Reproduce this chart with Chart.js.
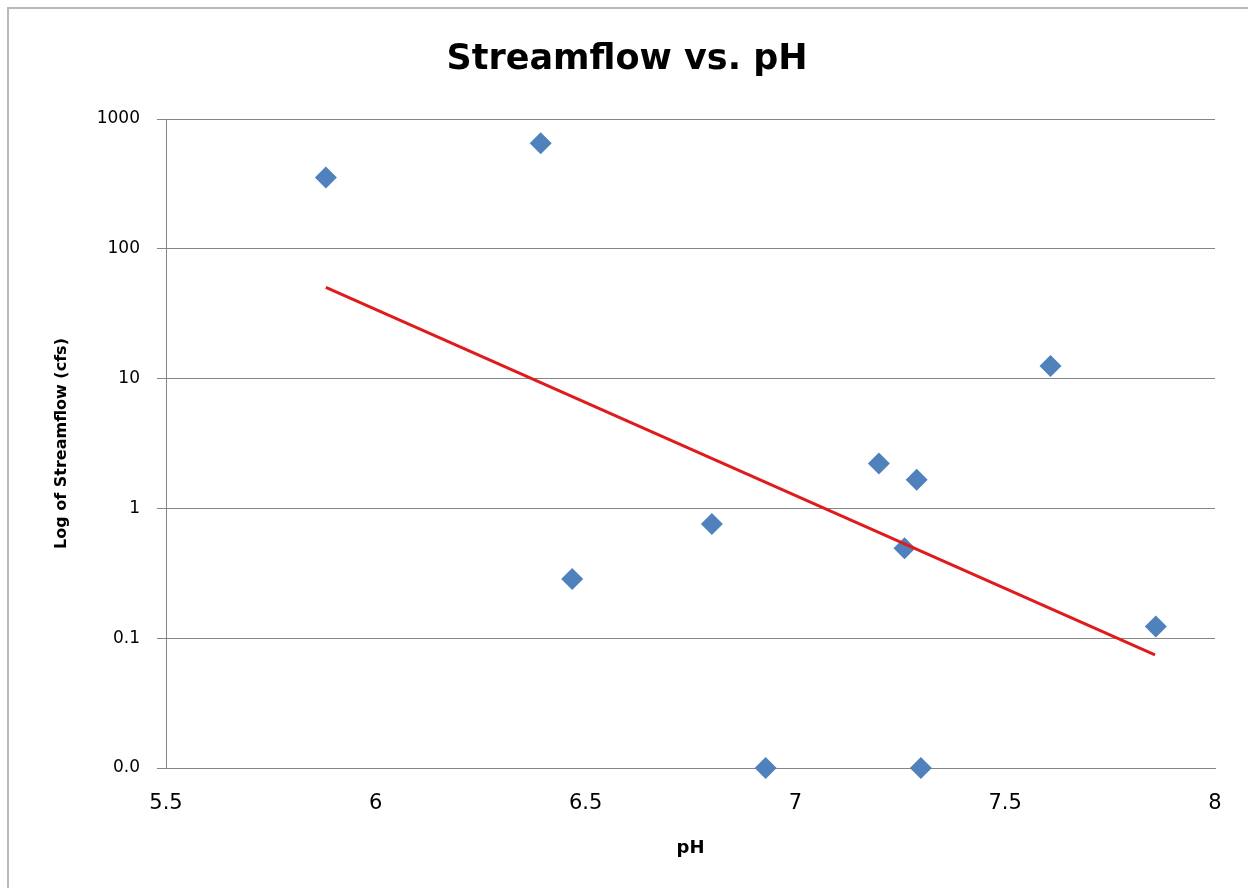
<!DOCTYPE html>
<html>
<head>
<meta charset="utf-8">
<script src="https://cdn.jsdelivr.net/npm/chart.js@4/dist/chart.umd.min.js"></script>
<style>
  html, body { margin: 0; padding: 0; background: #ffffff; }
  #wrap { position: relative; width: 1248px; height: 888px; }
</style>
</head>
<body>
<div id="wrap"><canvas id="c" width="1248" height="888"></canvas></div>
<script>
// ---- data ----
const phValues   = [5.881, 6.393, 6.468, 6.801, 6.929, 7.199, 7.260, 7.289, 7.299, 7.608, 7.859];
const flowValues = [355, 650, 0.286, 0.758, 0.01, 2.22, 0.493, 1.66, 0.01, 12.5, 0.123];
const trendX = [5.881, 7.857];
const trendY = [50.5, 0.0743];
const xTickValues = [5.5, 6, 6.5, 7, 7.5, 8];
const xTickLabels = ["5.5", "6", "6.5", "7", "7.5", "8"];
const yTickValues = [0.01, 0.1, 1, 10, 100, 1000];
const yTickLabels = ["0.0", "0.1", "1", "10", "100", "1000"];
const chartTitle = "Streamflow vs. pH";
const xTitle = "pH";
const yTitle = "Log of Streamflow (cfs)";

const points = phValues.map((x, i) => ({ x: x, y: flowValues[i] }));
const trend = trendX.map((x, i) => ({ x: x, y: trendY[i] }));

const frame = {
  id: 'frame',
  beforeDraw(chart) {
    const ctx = chart.ctx;
    ctx.save();
    ctx.fillStyle = '#ffffff';
    ctx.fillRect(0, 0, chart.width, chart.height);
    ctx.strokeStyle = '#b8b8b8';
    ctx.lineWidth = 2;
    ctx.beginPath();
    ctx.moveTo(8, 900);
    ctx.lineTo(8, 8);
    ctx.lineTo(1260, 8);
    ctx.stroke();
    ctx.restore();
  }
};

new Chart(document.getElementById('c'), {
  type: 'scatter',
  data: {
    datasets: [
      {
        type: 'line',
        data: trend,
        borderColor: '#e01b1b',
        borderWidth: 3,
        pointRadius: 0,
        fill: false,
        order: 0
      },
      {
        data: points,
        pointStyle: 'rectRot',
        pointRadius: 11,
        pointHoverRadius: 11,
        backgroundColor: '#4f81bd',
        borderColor: '#4f81bd',
        borderWidth: 0,
        clip: false,
        order: 1
      }
    ]
  },
  options: {
    responsive: false,
    animation: false,
    devicePixelRatio: 1,
    layout: { padding: { left: 39, right: 33, top: 0, bottom: 0 } },
    plugins: {
      legend: { display: false },
      tooltip: { enabled: false },
      title: {
        display: true,
        text: chartTitle,
        color: '#000000',
        font: { family: 'DejaVu Sans', weight: 'bold', size: 35 },
        padding: { top: 39, bottom: 38 }
      }
    },
    scales: {
      x: {
        type: 'linear',
        min: 5.5,
        max: 8,
        afterBuildTicks(scale) {
          scale.ticks = xTickValues.map(v => ({ value: v }));
        },
        ticks: {
          color: '#000000',
          font: { family: 'DejaVu Sans', size: 21 },
          padding: 3,
          maxRotation: 0,
          autoSkip: false,
          callback(value) {
            const i = xTickValues.indexOf(value);
            return i >= 0 ? xTickLabels[i] : '';
          }
        },
        grid: { display: true, drawOnChartArea: false, drawTicks: true, tickLength: 20, tickColor: 'rgba(0,0,0,0)', color: '#868686' },
        border: { display: true, color: '#868686', width: 1 },
        title: {
          display: true,
          text: xTitle,
          color: '#000000',
          font: { family: 'DejaVu Sans', weight: 'bold', size: 18 },
          padding: { top: 0, bottom: 29 }
        },
        afterFit(scale) { scale.height = 120; }
      },
      y: {
        type: 'logarithmic',
        min: 0.01,
        max: 1000,
        afterBuildTicks(scale) {
          scale.ticks = yTickValues.map(v => ({ value: v }));
        },
        ticks: {
          color: '#000000',
          font: { family: 'DejaVu Sans', size: 17 },
          padding: 17,
          autoSkip: false,
          callback(value) {
            const i = yTickValues.indexOf(value);
            return i >= 0 ? yTickLabels[i] : '';
          }
        },
        grid: { color: '#868686', lineWidth: 1, tickLength: 9, drawTicks: true },
        border: { display: true, color: '#868686', width: 1 },
        title: {
          display: true,
          text: yTitle,
          color: '#000000',
          font: { family: 'DejaVu Sans', weight: 'bold', size: 16 },
          padding: { top: 13, bottom: 4 }
        },
        afterFit(scale) { scale.width = 127; }
      }
    }
  },
  plugins: [frame]
});
</script>
</body>
</html>
